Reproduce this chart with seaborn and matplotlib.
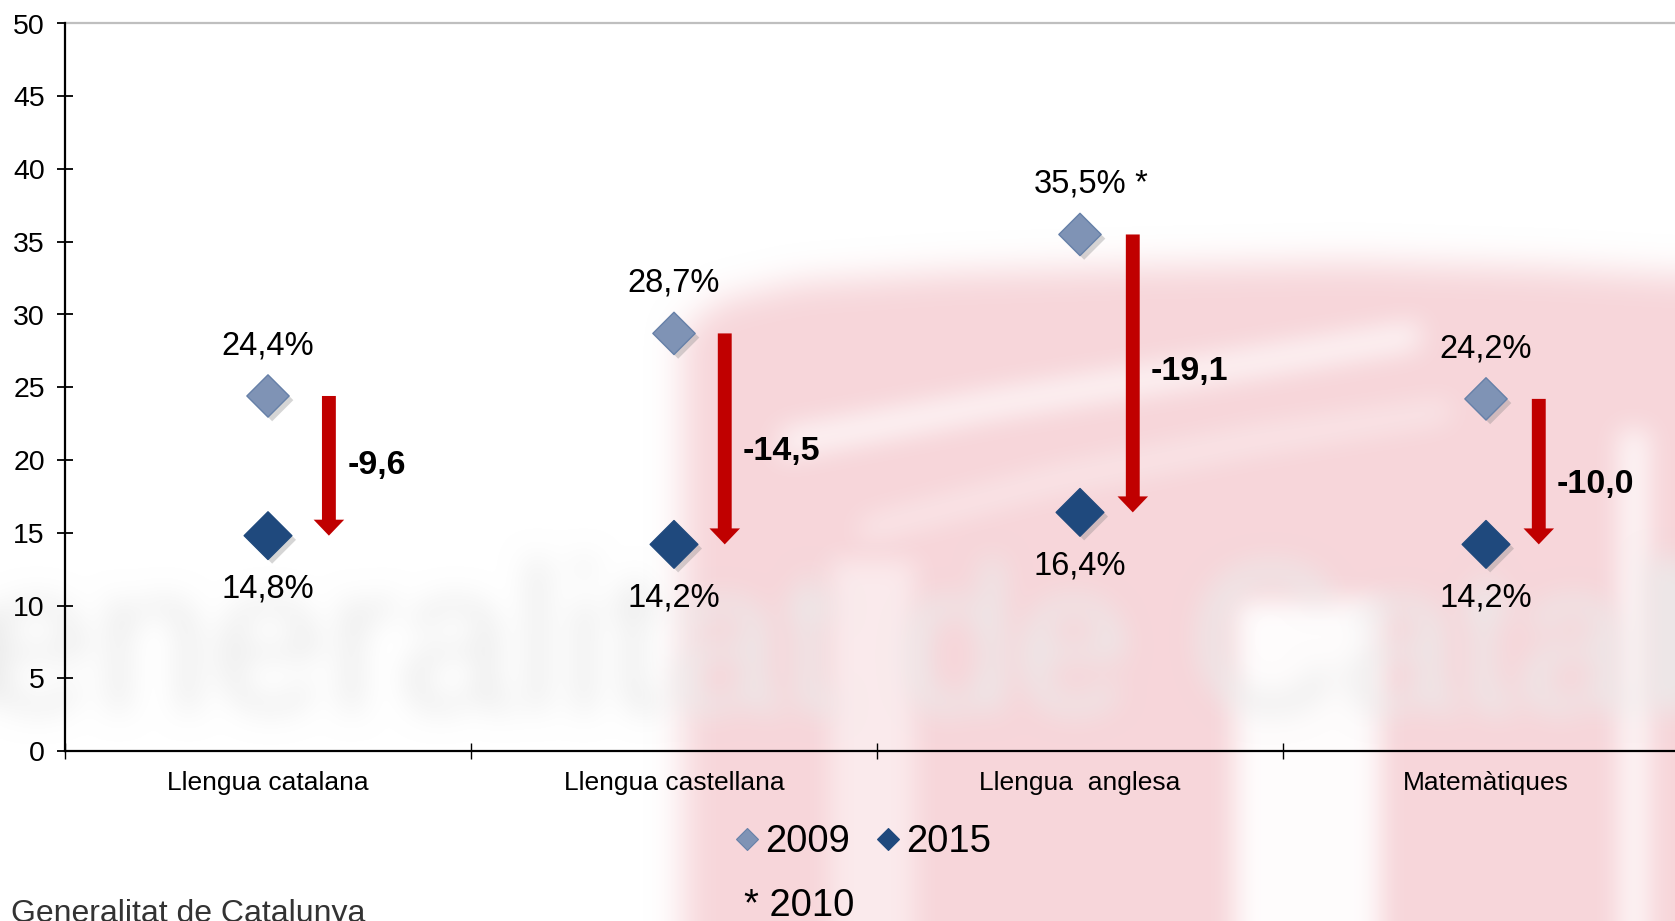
import numpy as np
import pandas as pd
import matplotlib
matplotlib.use("Agg")
import matplotlib.pyplot as plt
import matplotlib.colors as mcolors
import seaborn as sns
from matplotlib.patches import Polygon, Rectangle
from matplotlib import patheffects as pe
from matplotlib.lines import Line2D

# ---------------- data ----------------
categories = ["Llengua catalana", "Llengua castellana", "Llengua  anglesa", "Matemàtiques"]
values_2009 = [24.4, 28.7, 35.5, 24.2]
values_2015 = [14.8, 14.2, 16.4, 14.2]
flag_2010 = [False, False, True, False]
y_ticks = [0, 5, 10, 15, 20, 25, 30, 35, 40, 45, 50]
series_labels = ["2009", "2015"]
note_label = "* 2010"
source_label = "Generalitat de Catalunya"

# ---------------- style ----------------
sns.set_style("white")
plt.rcParams["font.family"] = ["Liberation Sans", "DejaVu Sans"]
plt.rcParams["text.color"] = "black"
plt.rcParams["xtick.color"] = "black"
plt.rcParams["ytick.color"] = "black"
plt.rcParams["axes.labelcolor"] = "black"

W, H = 1675, 921
fig = plt.figure(figsize=(W / 100, H / 100), dpi=100, facecolor="white")

# ---------------- blurred watermark background ----------------
def _box(a, r, axis):
    n = 2 * r + 1
    padw = [(0, 0), (0, 0)]
    padw[axis] = (r + 1, r)
    c = np.cumsum(np.pad(a, padw), axis=axis)
    if axis == 0:
        return (c[n:, :] - c[:-n, :]) / n
    return (c[:, n:] - c[:, :-n]) / n


def soft(color, r=10, sides=()):
    rgb = mcolors.to_rgb(color)

    def filt(im, dpi):
        pad = 3 * r
        a = np.pad(im[..., 3].astype(float), pad)
        if "bottom" in sides:
            a[-pad:, :] = a[-pad - 1:-pad, :]
        if "top" in sides:
            a[:pad, :] = a[pad:pad + 1, :]
        if "right" in sides:
            a[:, -pad:] = a[:, -pad - 1:-pad]
        if "left" in sides:
            a[:, :pad] = a[:, pad:pad + 1]
        for _ in range(3):
            a = _box(a, r, 0)
            a = _box(a, r, 1)
        out = np.empty(a.shape + (4,), dtype=float)
        out[..., 0], out[..., 1], out[..., 2] = rgb
        out[..., 3] = np.clip(a, 0, 1)
        return out, -pad, -pad

    return filt


bg = fig.add_axes([0, 0, 1, 1], zorder=0)
bg.set_xlim(0, W)
bg.set_ylim(H, 0)
bg.axis("off")

pink = "#F7D6DA"
pk = Polygon([(683, 330), (720, 300), (800, 282), (950, 272), (1150, 266), (1350, 262),
              (1550, 268), (1675, 275), (1675, 921), (683, 921)],
             closed=True, facecolor=pink, edgecolor="none")
pk.set_agg_filter(soft(pink, 16, ("bottom", "right")))
bg.add_patch(pk)

for (x0, y0, w, h, a) in [(830, 560, 85, 361, 0.5), (1235, 600, 145, 321, 0.95),
                          (1620, 430, 28, 491, 0.85)]:
    g = Rectangle((x0, y0), w, h, facecolor="white", edgecolor="none", alpha=a)
    g.set_agg_filter(soft("white", 12, ("bottom",)))
    bg.add_patch(g)

for pts, a in [([(780, 430), (1000, 390), (1200, 358), (1420, 322), (1420, 348),
                 (1200, 384), (1000, 416), (780, 458)], 0.8),
               ([(860, 520), (1050, 470), (1250, 430), (1450, 400), (1450, 420),
                 (1250, 452), (1050, 492), (860, 542)], 0.45)]:
    sw = Polygon(pts, closed=True, facecolor="white", edgecolor="none", alpha=a)
    sw.set_agg_filter(soft("white", 12))
    bg.add_patch(sw)

wm = bg.text(-185, 711, source_label, fontsize=151, color="#EBEBEB",
             va="baseline", ha="left")
wm.set_agg_filter(soft("#EBEBEB", 13, ("left", "right")))

# ---------------- main axes ----------------
ax = fig.add_axes([65 / W, 1 - 751 / H, 4 * 406 / W, (751 - 23.5) / H], zorder=2)
ax.set_facecolor("none")

x = np.arange(len(categories))
df = pd.DataFrame({"pos": x, "v2009": values_2009, "v2015": values_2015})

c2009, e2009 = "#7F93B5", "#6680A8"
c2015, e2015 = "#1F497D", "#1F497D"
shadow = [pe.SimplePatchShadow(offset=(3, -3), shadow_rgbFace="#777777", alpha=0.3),
          pe.Normal()]

sns.scatterplot(data=df, x="pos", y="v2009", marker="D", s=464, color=c2009,
                edgecolor=e2009, linewidth=1, ax=ax, zorder=5,
                path_effects=shadow, legend=False)
sns.scatterplot(data=df, x="pos", y="v2015", marker="D", s=590, color=c2015,
                edgecolor=e2015, linewidth=1, ax=ax, zorder=5,
                path_effects=shadow, legend=False)

arrow_dx = [0.15, 0.125, 0.13, 0.13]
label_dy = [0.0, -0.9, 0.15, -0.9]


def fmt(v, pct=False):
    s = f"{v:.1f}".replace(".", ",")
    return s + "%" if pct else s


for i in range(len(categories)):
    a, b = values_2009[i], values_2015[i]
    xa = x[i] + arrow_dx[i]
    ax.annotate("", xy=(xa, b), xytext=(xa, a),
                arrowprops=dict(arrowstyle="simple,head_length=1.15,head_width=2.2,tail_width=1.0",
                                mutation_scale=10, color="#C00000", shrinkA=0, shrinkB=0, lw=0),
                zorder=4)
    ax.text(xa + 0.045, (a + b) / 2 + label_dy[i], fmt(round(b - a, 1)),
            fontsize=24.5, fontweight="bold", va="center", ha="left", zorder=6)
    t = ax.text(x[i], a + 3.45, fmt(a, True), fontsize=23.5, va="center", ha="center", zorder=6)
    if flag_2010[i]:
        ax.annotate(" *", xy=(1, 0.5), xycoords=t, fontsize=23.5, va="center", ha="left")
    ax.text(x[i], b - 3.7, fmt(b, True), fontsize=23.5, va="center", ha="center", zorder=6)

ax.set_xlim(-0.5, len(categories) - 0.5)
ax.set_ylim(0, 50)
ax.set_xlabel("")
ax.set_ylabel("")
ax.axhline(50, color="#BFBFBF", lw=1.6, clip_on=False, zorder=1)

for s in ["top", "right"]:
    ax.spines[s].set_visible(False)
for s in ["left", "bottom"]:
    ax.spines[s].set_color("black")
    ax.spines[s].set_linewidth(1.6)

ax.set_yticks(y_ticks)
ax.tick_params(axis="y", left=True, direction="inout", length=11, width=1.3,
               labelsize=20.5, pad=9, colors="black")
ax.set_xticks(np.arange(-0.5, len(categories), 1.0))
ax.set_xticklabels([])
ax.tick_params(axis="x", which="major", bottom=True, direction="inout", length=12,
               width=1.0, colors="black")
ax.set_xticks(x, minor=True)
ax.set_xticklabels(categories, minor=True)
ax.tick_params(axis="x", which="minor", bottom=True, length=0, pad=14.5, labelsize=19,
               colors="black")

# ---------------- legend & notes ----------------
handles = [Line2D([], [], marker="D", ls="", markersize=11.7, mfc=c2009, mec=e2009, mew=0.8),
           Line2D([], [], marker="D", ls="", markersize=11.7, mfc=c2015, mec=e2015, mew=0.8)]
fig.legend(handles, series_labels, loc="center", bbox_to_anchor=(862 / W, 1 - 842 / H),
           ncol=2, frameon=False, fontsize=27.5, handlelength=0.7, handletextpad=0.12,
           columnspacing=0.65, borderpad=0, borderaxespad=0)
fig.text(744 / W, 1 - 906 / H, note_label, fontsize=27.5, va="center", ha="left")
fig.text(11 / W, -0.001, source_label, fontsize=23, color="#333333", va="baseline", ha="left")

fig.savefig("out.png", dpi=100, facecolor="white")
